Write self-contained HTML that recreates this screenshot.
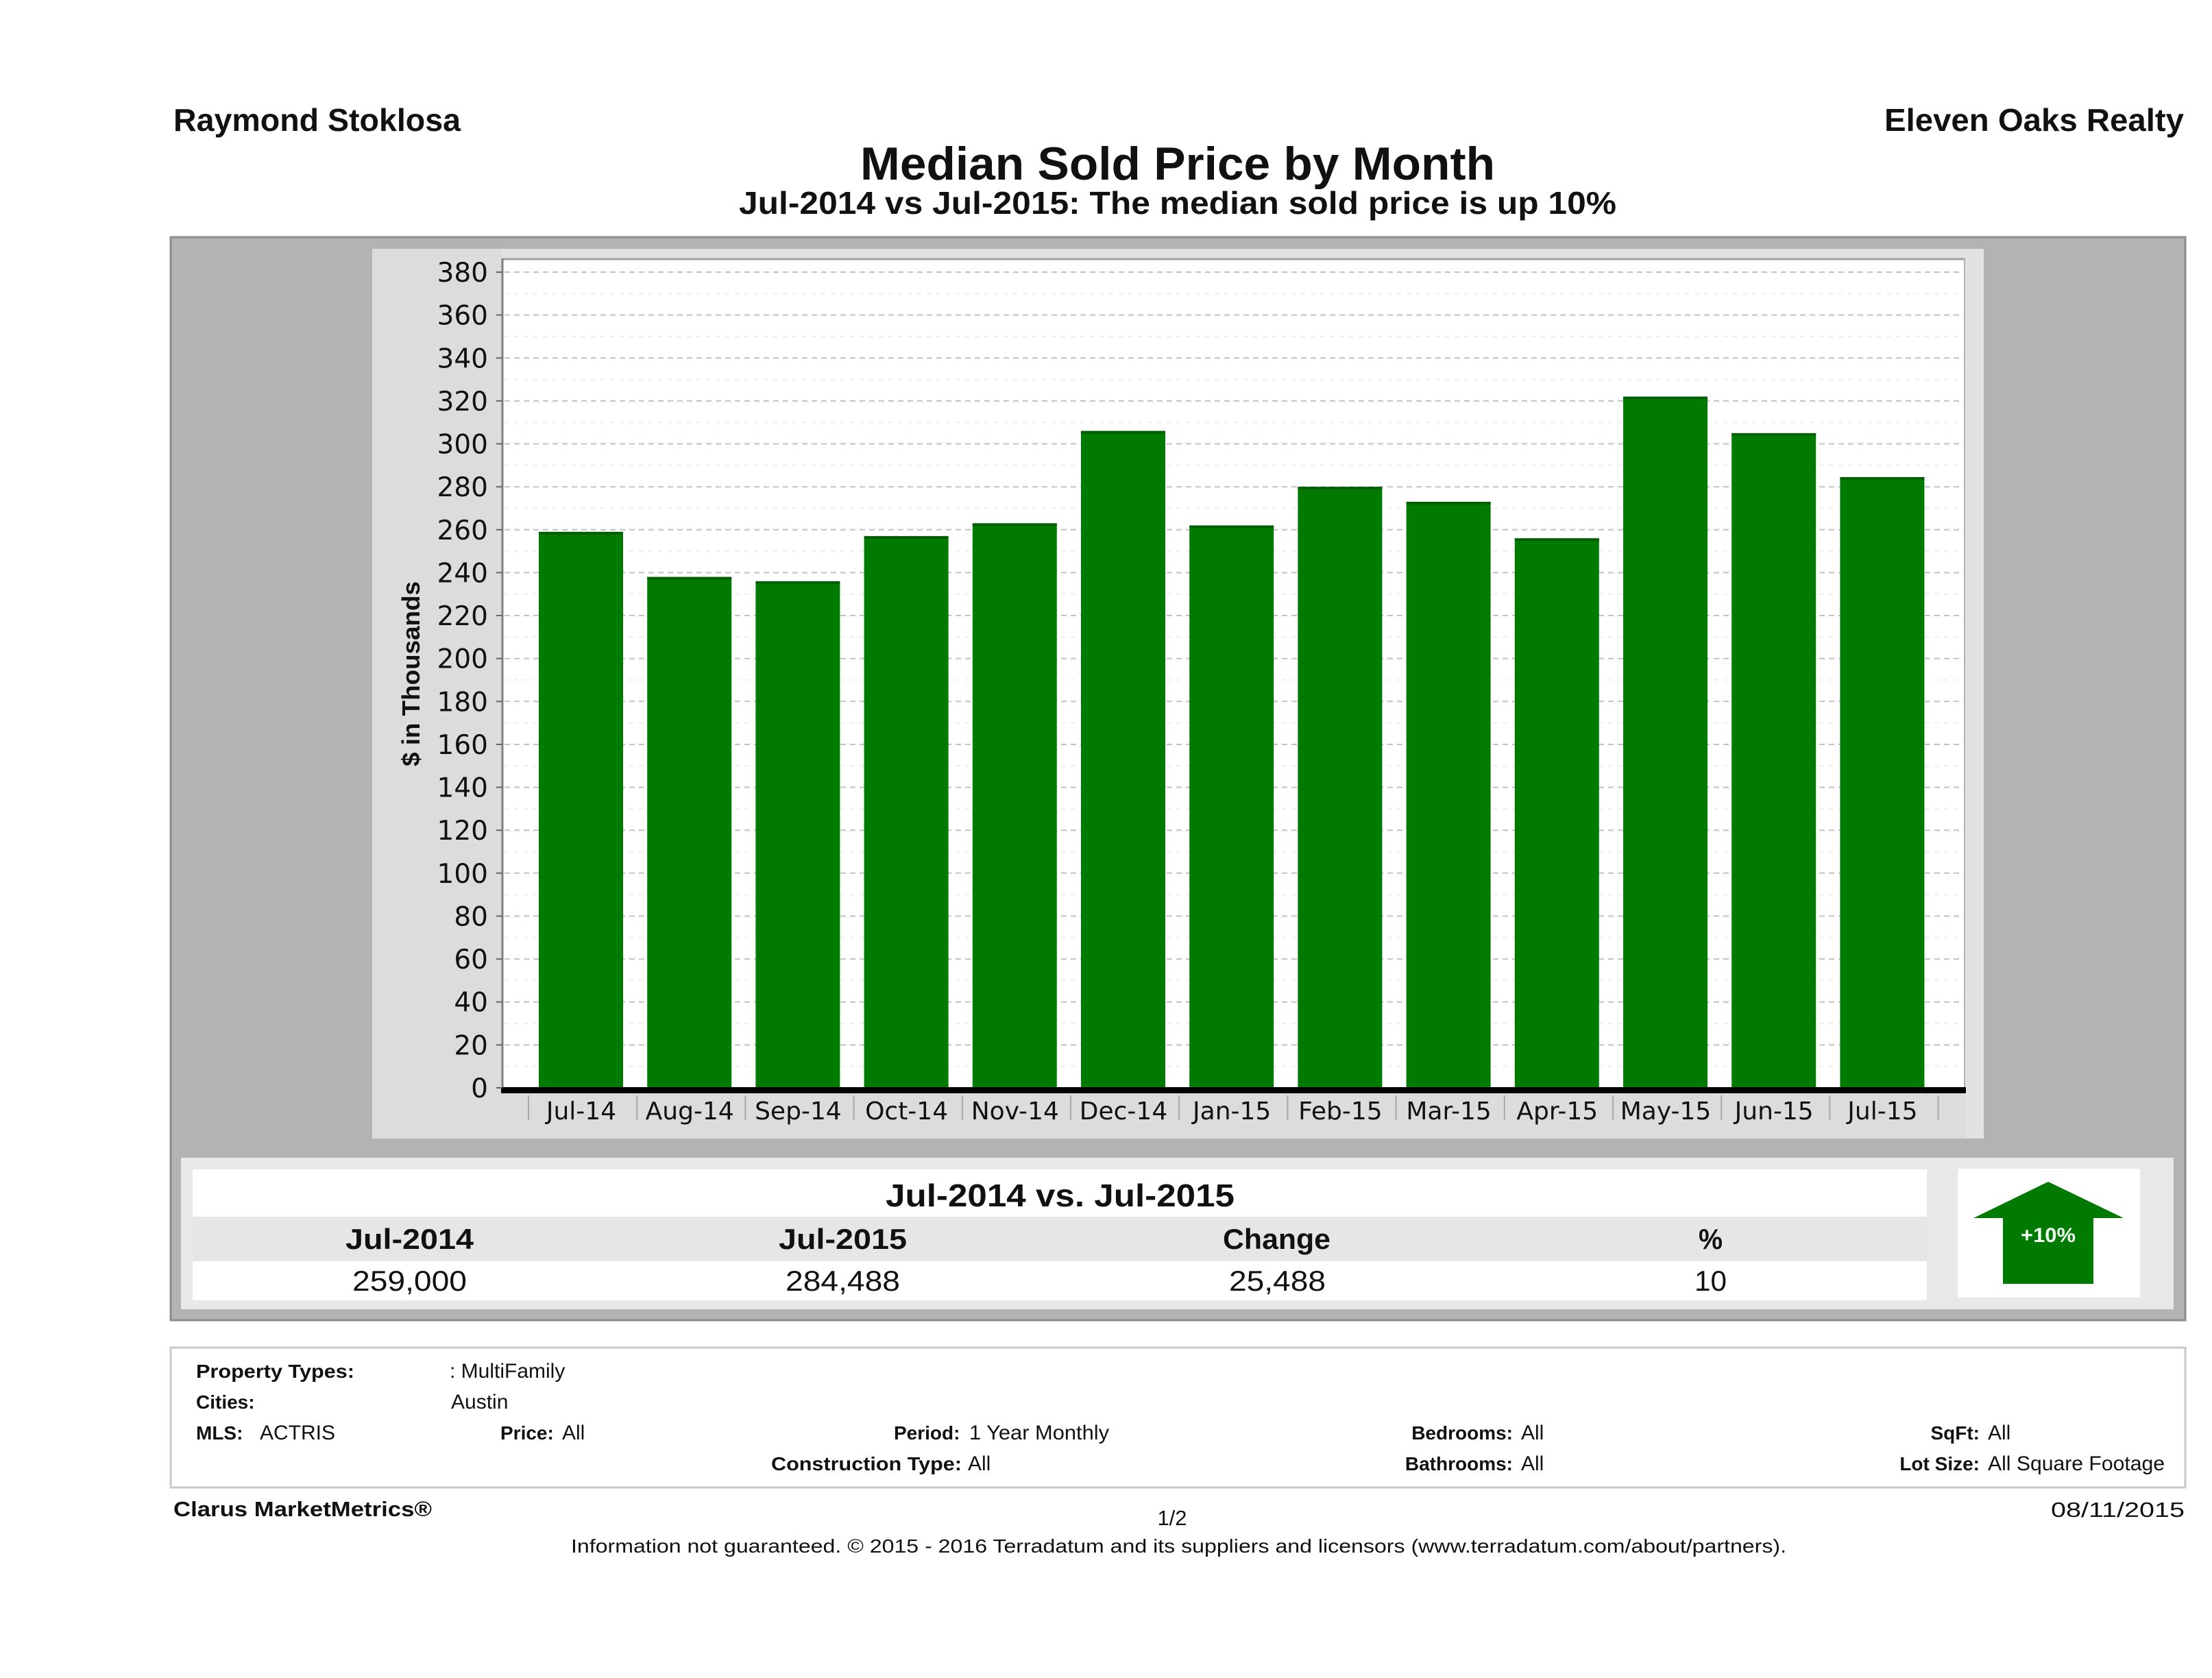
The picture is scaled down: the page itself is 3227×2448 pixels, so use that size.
<!DOCTYPE html>
<html>
<head>
<meta charset="utf-8">
<style>
  html,body{margin:0;padding:0;background:#fff;}
  svg{display:block;}
  .b{font-family:"Liberation Sans",Arial,sans-serif;font-weight:bold;fill:#111;}
  .r{font-family:"Liberation Sans",Arial,sans-serif;fill:#111;}
  .d{font-family:"DejaVu Sans","Liberation Sans",sans-serif;fill:#111;}
</style>
</head>
<body>
<svg width="3227" height="2448" viewBox="0 0 3227 2448" xmlns="http://www.w3.org/2000/svg">
  <rect x="0" y="0" width="3227" height="2448" fill="#ffffff"/>

  <!-- Header -->
  <text class="b" x="253" y="191" font-size="46" textLength="419" lengthAdjust="spacingAndGlyphs">Raymond Stoklosa</text>
  <text class="b" x="2749" y="191" font-size="46" textLength="437" lengthAdjust="spacingAndGlyphs">Eleven Oaks Realty</text>
  <text class="b" x="1255" y="262" font-size="68" textLength="926" lengthAdjust="spacingAndGlyphs">Median Sold Price by Month</text>
  <text class="b" x="1078" y="312" font-size="46" textLength="1280" lengthAdjust="spacingAndGlyphs">Jul-2014 vs Jul-2015: The median sold price is up 10%</text>

  <!-- Outer gray panel -->
  <rect x="249" y="346" width="2939" height="1580" fill="#b3b3b3" stroke="#8c8c8c" stroke-width="3"/>

  <!-- Inner chart panel -->
  <rect x="543" y="363" width="2351" height="1298" fill="#dcdcdc"/>
  <rect x="733" y="363" width="2161" height="14" fill="#e2e2e2"/>
  <rect x="2867" y="377" width="27" height="1284" fill="#e2e2e2"/>

  <!-- Plot area -->
  <rect x="733" y="377" width="2134" height="1210" fill="#ffffff"/>
  <line x1="733" y1="378" x2="2867" y2="378" stroke="#a0a0a0" stroke-width="3"/>
  <line x1="2866" y1="377" x2="2866" y2="1590" stroke="#b0b0b0" stroke-width="2"/>

  <!-- Minor gridlines -->
  <g stroke="#eeeeee" stroke-width="2" stroke-dasharray="6,8">
    <line x1="736" y1="1555.7" x2="2864" y2="1555.7"/>
    <line x1="736" y1="1493.1" x2="2864" y2="1493.1"/>
    <line x1="736" y1="1430.4" x2="2864" y2="1430.4"/>
    <line x1="736" y1="1367.8" x2="2864" y2="1367.8"/>
    <line x1="736" y1="1305.2" x2="2864" y2="1305.2"/>
    <line x1="736" y1="1242.5" x2="2864" y2="1242.5"/>
    <line x1="736" y1="1179.9" x2="2864" y2="1179.9"/>
    <line x1="736" y1="1117.3" x2="2864" y2="1117.3"/>
    <line x1="736" y1="1054.6" x2="2864" y2="1054.6"/>
    <line x1="736" y1="992.0" x2="2864" y2="992.0"/>
    <line x1="736" y1="929.4" x2="2864" y2="929.4"/>
    <line x1="736" y1="866.7" x2="2864" y2="866.7"/>
    <line x1="736" y1="804.1" x2="2864" y2="804.1"/>
    <line x1="736" y1="741.5" x2="2864" y2="741.5"/>
    <line x1="736" y1="678.8" x2="2864" y2="678.8"/>
    <line x1="736" y1="616.2" x2="2864" y2="616.2"/>
    <line x1="736" y1="553.6" x2="2864" y2="553.6"/>
    <line x1="736" y1="490.9" x2="2864" y2="490.9"/>
    <line x1="736" y1="428.3" x2="2864" y2="428.3"/>
  </g>
  <!-- Major gridlines -->
  <g stroke="#c2c2c2" stroke-width="2" stroke-dasharray="8,6">
    <line x1="736" y1="1524.4" x2="2864" y2="1524.4"/>
    <line x1="736" y1="1461.7" x2="2864" y2="1461.7"/>
    <line x1="736" y1="1399.1" x2="2864" y2="1399.1"/>
    <line x1="736" y1="1336.5" x2="2864" y2="1336.5"/>
    <line x1="736" y1="1273.8" x2="2864" y2="1273.8"/>
    <line x1="736" y1="1211.2" x2="2864" y2="1211.2"/>
    <line x1="736" y1="1148.6" x2="2864" y2="1148.6"/>
    <line x1="736" y1="1086.0" x2="2864" y2="1086.0"/>
    <line x1="736" y1="1023.3" x2="2864" y2="1023.3"/>
    <line x1="736" y1="960.7" x2="2864" y2="960.7"/>
    <line x1="736" y1="898.0" x2="2864" y2="898.0"/>
    <line x1="736" y1="835.4" x2="2864" y2="835.4"/>
    <line x1="736" y1="772.8" x2="2864" y2="772.8"/>
    <line x1="736" y1="710.2" x2="2864" y2="710.2"/>
    <line x1="736" y1="647.5" x2="2864" y2="647.5"/>
    <line x1="736" y1="584.9" x2="2864" y2="584.9"/>
    <line x1="736" y1="522.3" x2="2864" y2="522.3"/>
    <line x1="736" y1="459.6" x2="2864" y2="459.6"/>
    <line x1="736" y1="397.0" x2="2864" y2="397.0"/>
  </g>

  <!-- Bars -->
  <g fill="#007a00">
    <rect x="786.0" y="775.9" width="123" height="811.1"/>
    <rect x="944.2" y="841.7" width="123" height="745.3"/>
    <rect x="1102.4" y="847.9" width="123" height="739.1"/>
    <rect x="1260.6" y="782.2" width="123" height="804.8"/>
    <rect x="1418.8" y="763.4" width="123" height="823.6"/>
    <rect x="1577.0" y="628.7" width="123" height="958.3"/>
    <rect x="1735.2" y="766.5" width="123" height="820.5"/>
    <rect x="1893.4" y="710.2" width="123" height="876.8"/>
    <rect x="2051.6" y="732.1" width="123" height="854.9"/>
    <rect x="2209.8" y="785.3" width="123" height="801.7"/>
    <rect x="2368.0" y="578.6" width="123" height="1008.4"/>
    <rect x="2526.2" y="631.9" width="123" height="955.1"/>
    <rect x="2684.4" y="696.1" width="123" height="890.9"/>
  </g>
  <g fill="#005f00">
    <rect x="786.0" y="775.9" width="123" height="4"/>
    <rect x="944.2" y="841.7" width="123" height="4"/>
    <rect x="1102.4" y="847.9" width="123" height="4"/>
    <rect x="1260.6" y="782.2" width="123" height="4"/>
    <rect x="1418.8" y="763.4" width="123" height="4"/>
    <rect x="1577.0" y="628.7" width="123" height="4"/>
    <rect x="1735.2" y="766.5" width="123" height="4"/>
    <rect x="1893.4" y="710.2" width="123" height="4"/>
    <rect x="2051.6" y="732.1" width="123" height="4"/>
    <rect x="2209.8" y="785.3" width="123" height="4"/>
    <rect x="2368.0" y="578.6" width="123" height="4"/>
    <rect x="2526.2" y="631.9" width="123" height="4"/>
    <rect x="2684.4" y="696.1" width="123" height="4"/>
  </g>

  <!-- Axes -->
  <line x1="733" y1="377" x2="733" y2="1590" stroke="#808080" stroke-width="3"/>
  <rect x="731" y="1586" width="2137" height="9" fill="#000"/>

  <!-- Y ticks -->
  <g stroke="#666" stroke-width="2">
    <line x1="724" y1="1587" x2="733" y2="1587"/>
    <line x1="724" y1="1524.4" x2="733" y2="1524.4"/>
    <line x1="724" y1="1461.7" x2="733" y2="1461.7"/>
    <line x1="724" y1="1399.1" x2="733" y2="1399.1"/>
    <line x1="724" y1="1336.5" x2="733" y2="1336.5"/>
    <line x1="724" y1="1273.8" x2="733" y2="1273.8"/>
    <line x1="724" y1="1211.2" x2="733" y2="1211.2"/>
    <line x1="724" y1="1148.6" x2="733" y2="1148.6"/>
    <line x1="724" y1="1086.0" x2="733" y2="1086.0"/>
    <line x1="724" y1="1023.3" x2="733" y2="1023.3"/>
    <line x1="724" y1="960.7" x2="733" y2="960.7"/>
    <line x1="724" y1="898.0" x2="733" y2="898.0"/>
    <line x1="724" y1="835.4" x2="733" y2="835.4"/>
    <line x1="724" y1="772.8" x2="733" y2="772.8"/>
    <line x1="724" y1="710.2" x2="733" y2="710.2"/>
    <line x1="724" y1="647.5" x2="733" y2="647.5"/>
    <line x1="724" y1="584.9" x2="733" y2="584.9"/>
    <line x1="724" y1="522.3" x2="733" y2="522.3"/>
    <line x1="724" y1="459.6" x2="733" y2="459.6"/>
    <line x1="724" y1="397.0" x2="733" y2="397.0"/>
  </g>

  <!-- Y tick labels -->
  <g class="d" font-size="39" text-anchor="end">
    <text x="712" y="1601">0</text>
    <text x="712" y="1538.4">20</text>
    <text x="712" y="1475.7">40</text>
    <text x="712" y="1413.1">60</text>
    <text x="712" y="1350.5">80</text>
    <text x="712" y="1287.8">100</text>
    <text x="712" y="1225.2">120</text>
    <text x="712" y="1162.6">140</text>
    <text x="712" y="1100.0">160</text>
    <text x="712" y="1037.3">180</text>
    <text x="712" y="974.7">200</text>
    <text x="712" y="912.0">220</text>
    <text x="712" y="849.4">240</text>
    <text x="712" y="786.8">260</text>
    <text x="712" y="724.2">280</text>
    <text x="712" y="661.5">300</text>
    <text x="712" y="598.9">320</text>
    <text x="712" y="536.3">340</text>
    <text x="712" y="473.6">360</text>
    <text x="712" y="411.0">380</text>
  </g>

  <!-- Y axis title -->
  <text class="b" transform="translate(612,983) rotate(-90)" x="0" y="0" font-size="36" text-anchor="middle" textLength="270" lengthAdjust="spacingAndGlyphs">$ in Thousands</text>

  <!-- Category tick separators -->
  <g stroke="#a8a8a8" stroke-width="2">
    <line x1="771" y1="1598" x2="771" y2="1634"/>
    <line x1="929.2" y1="1598" x2="929.2" y2="1634"/>
    <line x1="1087.4" y1="1598" x2="1087.4" y2="1634"/>
    <line x1="1245.6" y1="1598" x2="1245.6" y2="1634"/>
    <line x1="1403.8" y1="1598" x2="1403.8" y2="1634"/>
    <line x1="1562" y1="1598" x2="1562" y2="1634"/>
    <line x1="1720.2" y1="1598" x2="1720.2" y2="1634"/>
    <line x1="1878.4" y1="1598" x2="1878.4" y2="1634"/>
    <line x1="2036.6" y1="1598" x2="2036.6" y2="1634"/>
    <line x1="2194.8" y1="1598" x2="2194.8" y2="1634"/>
    <line x1="2353" y1="1598" x2="2353" y2="1634"/>
    <line x1="2511.2" y1="1598" x2="2511.2" y2="1634"/>
    <line x1="2669.4" y1="1598" x2="2669.4" y2="1634"/>
    <line x1="2827.6" y1="1598" x2="2827.6" y2="1634"/>
  </g>

  <!-- X labels -->
  <g class="d" font-size="36" text-anchor="middle">
    <text x="848" y="1633">Jul-14</text>
    <text x="1006.2" y="1633">Aug-14</text>
    <text x="1164.4" y="1633">Sep-14</text>
    <text x="1322.6" y="1633">Oct-14</text>
    <text x="1480.8" y="1633">Nov-14</text>
    <text x="1639" y="1633">Dec-14</text>
    <text x="1797.2" y="1633">Jan-15</text>
    <text x="1955.4" y="1633">Feb-15</text>
    <text x="2113.6" y="1633">Mar-15</text>
    <text x="2271.8" y="1633">Apr-15</text>
    <text x="2430" y="1633">May-15</text>
    <text x="2588.2" y="1633">Jun-15</text>
    <text x="2746.4" y="1633">Jul-15</text>
  </g>

  <!-- Comparison table -->
  <rect x="264" y="1689" width="2907" height="221" fill="#e8e8e8"/>
  <rect x="281" y="1706" width="2530" height="69" fill="#ffffff"/>
  <rect x="281" y="1775" width="2530" height="65" fill="#e6e6e6"/>
  <rect x="281" y="1840" width="2530" height="57" fill="#ffffff"/>

  <text class="b" x="1292" y="1760" font-size="46" textLength="509" lengthAdjust="spacingAndGlyphs">Jul-2014 vs. Jul-2015</text>

  <text class="b" x="504" y="1822" font-size="42" textLength="187" lengthAdjust="spacingAndGlyphs">Jul-2014</text>
  <text class="b" x="1136" y="1822" font-size="42" textLength="187" lengthAdjust="spacingAndGlyphs">Jul-2015</text>
  <text class="b" x="1784" y="1822" font-size="42" textLength="157" lengthAdjust="spacingAndGlyphs">Change</text>
  <text class="b" x="2478" y="1822" font-size="42" textLength="35" lengthAdjust="spacingAndGlyphs">%</text>

  <text class="r" x="514" y="1883" font-size="42" textLength="167" lengthAdjust="spacingAndGlyphs">259,000</text>
  <text class="r" x="1146" y="1883" font-size="42" textLength="167" lengthAdjust="spacingAndGlyphs">284,488</text>
  <text class="r" x="1793" y="1883" font-size="42" textLength="141" lengthAdjust="spacingAndGlyphs">25,488</text>
  <text class="r" x="2472" y="1883" font-size="42" textLength="47" lengthAdjust="spacingAndGlyphs">10</text>

  <!-- Arrow box -->
  <rect x="2856" y="1705" width="266" height="188" fill="#ffffff"/>
  <polygon points="2988,1724 3098,1777 3054,1777 3054,1873 2922,1873 2922,1777 2879,1777" fill="#007a00"/>
  <text class="b" x="2988" y="1812" font-size="30" text-anchor="middle" style="fill:#f2fff2" textLength="80" lengthAdjust="spacingAndGlyphs">+10%</text>

  <!-- Criteria box -->
  <rect x="249" y="1966" width="2939" height="204" fill="#ffffff" stroke="#c8c8c8" stroke-width="3"/>

  <text class="b" x="286" y="2010" font-size="28" textLength="231" lengthAdjust="spacingAndGlyphs">Property Types:</text>
  <text class="r" x="656" y="2010" font-size="30">: MultiFamily</text>
  <text class="b" x="286" y="2055" font-size="28">Cities:</text>
  <text class="r" x="658" y="2055" font-size="30">Austin</text>

  <text class="b" x="286" y="2100" font-size="28">MLS:</text>
  <text class="r" x="379" y="2100" font-size="30">ACTRIS</text>
  <text class="b" x="730" y="2100" font-size="28">Price:</text>
  <text class="r" x="820" y="2100" font-size="30">All</text>
  <text class="b" x="1304" y="2100" font-size="28">Period:</text>
  <text class="r" x="1414" y="2100" font-size="30" textLength="204" lengthAdjust="spacingAndGlyphs">1 Year Monthly</text>
  <text class="b" x="2207" y="2100" font-size="28" text-anchor="end">Bedrooms:</text>
  <text class="r" x="2219" y="2100" font-size="30">All</text>
  <text class="b" x="2888" y="2100" font-size="28" text-anchor="end">SqFt:</text>
  <text class="r" x="2900" y="2100" font-size="30">All</text>

  <text class="b" x="1125" y="2145" font-size="28" textLength="278" lengthAdjust="spacingAndGlyphs">Construction Type:</text>
  <text class="r" x="1412" y="2145" font-size="30">All</text>
  <text class="b" x="2207" y="2145" font-size="28" text-anchor="end">Bathrooms:</text>
  <text class="r" x="2219" y="2145" font-size="30">All</text>
  <text class="b" x="2888" y="2145" font-size="28" text-anchor="end">Lot Size:</text>
  <text class="r" x="2900" y="2145" font-size="30" textLength="258" lengthAdjust="spacingAndGlyphs">All Square Footage</text>

  <!-- Footer -->
  <text class="b" x="253" y="2212" font-size="31" textLength="377" lengthAdjust="spacingAndGlyphs">Clarus MarketMetrics®</text>
  <text class="r" x="1710" y="2225" font-size="31" text-anchor="middle">1/2</text>
  <text class="r" x="3187" y="2213" font-size="31" text-anchor="end" textLength="195" lengthAdjust="spacingAndGlyphs">08/11/2015</text>
  <text class="r" x="833" y="2265" font-size="28" textLength="1773" lengthAdjust="spacingAndGlyphs">Information not guaranteed. © 2015 - 2016 Terradatum and its suppliers and licensors (www.terradatum.com/about/partners).</text>
</svg>
</body>
</html>
